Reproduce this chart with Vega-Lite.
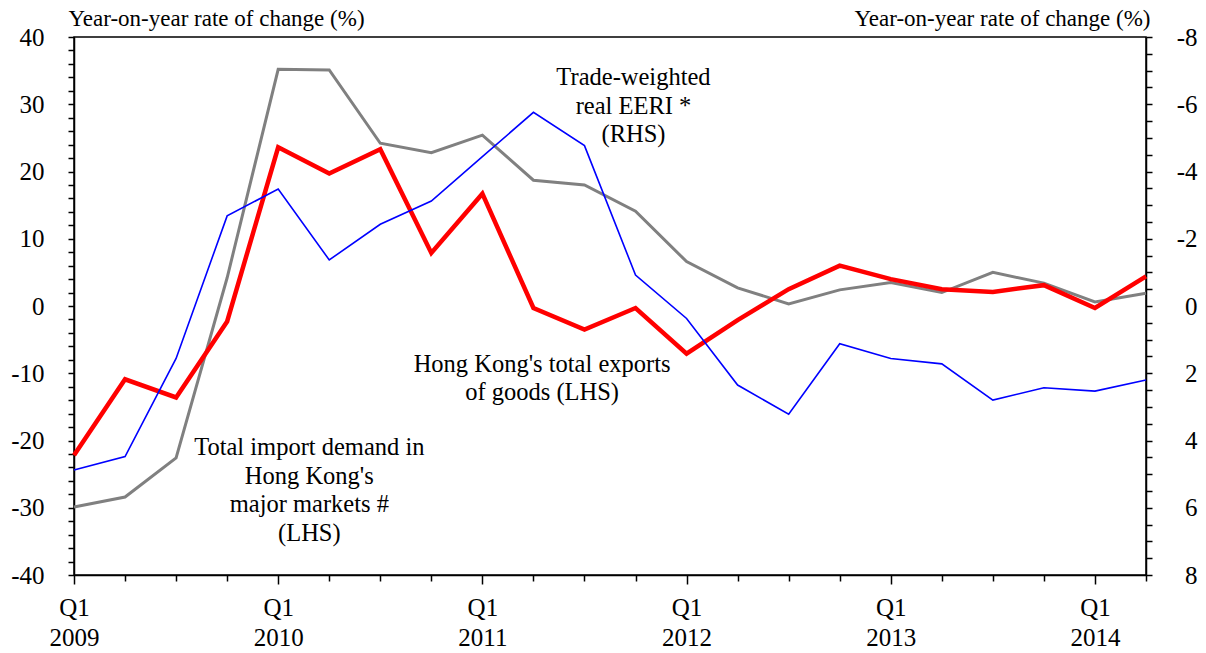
{
  "$schema": "https://vega.github.io/schema/vega-lite/v6.json",
  "width": 1072,
  "height": 538,
  "autosize": {"type": "none"},
  "padding": {"left": 74, "top": 37, "right": 60, "bottom": 78},
  "background": "white",
  "config": {
    "view": {"stroke": "black", "strokeWidth": 1.5},
    "axis": {
      "grid": false,
      "domainColor": "black",
      "domainWidth": 1.5,
      "tickColor": "black",
      "tickWidth": 1.5,
      "labelColor": "black",
      "titleColor": "black",
      "labelFont": "Liberation Serif",
      "titleFont": "Liberation Serif",
      "labelFontSize": 25,
      "titleFontSize": 23,
      "titleFontWeight": "normal",
      "labelOverlap": false,
      "labelFlush": false,
      "labelBound": false
    }
  },
  "datasets": {
    "series": [
      {"t": 0, "exports": -22.2, "imports": -29.9, "eeri": 4.88},
      {"t": 1, "exports": -10.9, "imports": -28.4, "eeri": 4.48},
      {"t": 2, "exports": -13.6, "imports": -22.6, "eeri": 1.56},
      {"t": 3, "exports": -2.3, "imports": 4.2, "eeri": -2.68},
      {"t": 4, "exports": 23.6, "imports": 35.2, "eeri": -3.48},
      {"t": 5, "exports": 19.7, "imports": 35.1, "eeri": -1.37},
      {"t": 6, "exports": 23.3, "imports": 24.2, "eeri": -2.43},
      {"t": 7, "exports": 7.9, "imports": 22.8, "eeri": -3.12},
      {"t": 8, "exports": 16.7, "imports": 25.4, "eeri": -4.44},
      {"t": 9, "exports": -0.3, "imports": 18.7, "eeri": -5.76},
      {"t": 10, "exports": -3.5, "imports": 18.0, "eeri": -4.77},
      {"t": 11, "exports": -0.3, "imports": 14.1, "eeri": -0.92},
      {"t": 12, "exports": -7.1, "imports": 6.6, "eeri": 0.37},
      {"t": 13, "exports": -2.1, "imports": 2.7, "eeri": 2.35},
      {"t": 14, "exports": 2.5, "imports": 0.3, "eeri": 3.22},
      {"t": 15, "exports": 6.0, "imports": 2.4, "eeri": 1.12},
      {"t": 16, "exports": 4.0, "imports": 3.5, "eeri": 1.56},
      {"t": 17, "exports": 2.5, "imports": 2.0, "eeri": 1.72},
      {"t": 18, "exports": 2.1, "imports": 5.0, "eeri": 2.80},
      {"t": 19, "exports": 3.1, "imports": 3.4, "eeri": 2.43},
      {"t": 20, "exports": -0.3, "imports": 0.6, "eeri": 2.53},
      {"t": 21, "exports": 4.4, "imports": 1.9, "eeri": 2.20}
    ],
    "notes": [
      {"t": 10.96, "v": 32.86, "label": "Trade-weighted\nreal EERI *\n(RHS)"},
      {"t": 9.17, "v": -9.74, "label": "Hong Kong's total exports\nof goods (LHS)"},
      {"t": 4.61, "v": -22.16, "label": "Total import demand in\nHong Kong's\nmajor markets #\n(LHS)"}
    ]
  },
  "layer": [
    {
      "layer": [
        {
          "data": {"name": "series"},
          "mark": {"type": "line", "color": "#808080", "strokeWidth": 3, "strokeJoin": "miter"},
          "encoding": {
            "x": {"field": "t", "type": "quantitative", "scale": {"domain": [0, 21], "nice": false, "zero": false},
              "axis": {"orient": "bottom", "values": [0,1,2,3,4,5,6,7,8,9,10,11,12,13,14,15,16,17,18,19,20,21], "labelExpr": "datum.value % 4 === 0 ? ['Q1', '' + (2009 + datum.value / 4)] : ''", "tickSize": {"condition": {"test": "datum.value % 4 === 0", "value": 9}, "value": 6}, "labelPadding": 11, "labelBaseline": "top", "labelLineHeight": 30.5, "labelAlign": "center", "labelFont": "Liberation Serif", "labelFontSize": 25, "title": null}
            },
            "y": {"field": "imports", "type": "quantitative", "scale": {"domain": [-40, 40], "nice": false},
              "axis": {"orient": "left", "values": [-40,-38,-36,-34,-32,-30,-28,-26,-24,-22,-20,-18,-16,-14,-12,-10,-8,-6,-4,-2,0,2,4,6,8,10,12,14,16,18,20,22,24,26,28,30,32,34,36,38,40], "labelExpr": "datum.value % 10 === 0 ? '' + datum.value : ''", "tickSize": 6, "labelPadding": 24, "labelBaseline": "middle", "labelFont": "Liberation Serif", "labelFontSize": 25, "title": "Year-on-year rate of change (%)", "titleFont": "Liberation Serif", "titleFontSize": 23, "titleAngle": 0, "titleAlign": "left", "titleBaseline": "alphabetic", "titleX": -6, "titleY": -12}
            }
          }
        },
        {
          "data": {"name": "series"},
          "mark": {"type": "line", "color": "#FF0000", "strokeWidth": 4.5, "strokeJoin": "miter"},
          "encoding": {
            "x": {"field": "t", "type": "quantitative", "scale": {"domain": [0, 21], "nice": false, "zero": false},
              "axis": {"orient": "bottom", "values": [0,1,2,3,4,5,6,7,8,9,10,11,12,13,14,15,16,17,18,19,20,21], "labelExpr": "datum.value % 4 === 0 ? ['Q1', '' + (2009 + datum.value / 4)] : ''", "tickSize": {"condition": {"test": "datum.value % 4 === 0", "value": 9}, "value": 6}, "labelPadding": 11, "labelBaseline": "top", "labelLineHeight": 30.5, "labelAlign": "center", "labelFont": "Liberation Serif", "labelFontSize": 25, "title": null}
            },
            "y": {"field": "exports", "type": "quantitative", "scale": {"domain": [-40, 40], "nice": false},
              "axis": {"orient": "left", "values": [-40,-38,-36,-34,-32,-30,-28,-26,-24,-22,-20,-18,-16,-14,-12,-10,-8,-6,-4,-2,0,2,4,6,8,10,12,14,16,18,20,22,24,26,28,30,32,34,36,38,40], "labelExpr": "datum.value % 10 === 0 ? '' + datum.value : ''", "tickSize": 6, "labelPadding": 24, "labelBaseline": "middle", "labelFont": "Liberation Serif", "labelFontSize": 25, "title": "Year-on-year rate of change (%)", "titleFont": "Liberation Serif", "titleFontSize": 23, "titleAngle": 0, "titleAlign": "left", "titleBaseline": "alphabetic", "titleX": -6, "titleY": -12}
            }
          }
        },
        {
          "mark": {"type": "rule", "color": "black", "strokeWidth": 1.5},
          "encoding": {
            "y": {"datum": 0, "type": "quantitative", "scale": {"domain": [-40, 40], "nice": false},
              "axis": {"orient": "left", "values": [-40,-38,-36,-34,-32,-30,-28,-26,-24,-22,-20,-18,-16,-14,-12,-10,-8,-6,-4,-2,0,2,4,6,8,10,12,14,16,18,20,22,24,26,28,30,32,34,36,38,40], "labelExpr": "datum.value % 10 === 0 ? '' + datum.value : ''", "tickSize": 6, "labelPadding": 24, "labelBaseline": "middle", "labelFont": "Liberation Serif", "labelFontSize": 25, "title": "Year-on-year rate of change (%)", "titleFont": "Liberation Serif", "titleFontSize": 23, "titleAngle": 0, "titleAlign": "left", "titleBaseline": "alphabetic", "titleX": -6, "titleY": -12}
            }
          }
        },
        {
          "data": {"name": "notes"},
          "mark": {"type": "text", "font": "Liberation Serif", "fontSize": 24.5, "color": "black", "align": "center", "baseline": "alphabetic", "lineBreak": "\n", "lineHeight": 28.5},
          "encoding": {
            "x": {"field": "t", "type": "quantitative", "scale": {"domain": [0, 21], "nice": false, "zero": false},
              "axis": {"orient": "bottom", "values": [0,1,2,3,4,5,6,7,8,9,10,11,12,13,14,15,16,17,18,19,20,21], "labelExpr": "datum.value % 4 === 0 ? ['Q1', '' + (2009 + datum.value / 4)] : ''", "tickSize": {"condition": {"test": "datum.value % 4 === 0", "value": 9}, "value": 6}, "labelPadding": 11, "labelBaseline": "top", "labelLineHeight": 30.5, "labelAlign": "center", "labelFont": "Liberation Serif", "labelFontSize": 25, "title": null}
            },
            "y": {"field": "v", "type": "quantitative", "scale": {"domain": [-40, 40], "nice": false},
              "axis": {"orient": "left", "values": [-40,-38,-36,-34,-32,-30,-28,-26,-24,-22,-20,-18,-16,-14,-12,-10,-8,-6,-4,-2,0,2,4,6,8,10,12,14,16,18,20,22,24,26,28,30,32,34,36,38,40], "labelExpr": "datum.value % 10 === 0 ? '' + datum.value : ''", "tickSize": 6, "labelPadding": 24, "labelBaseline": "middle", "labelFont": "Liberation Serif", "labelFontSize": 25, "title": "Year-on-year rate of change (%)", "titleFont": "Liberation Serif", "titleFontSize": 23, "titleAngle": 0, "titleAlign": "left", "titleBaseline": "alphabetic", "titleX": -6, "titleY": -12}
            },
            "text": {"field": "label"}
          }
        }
      ]
    },
    {
      "data": {"name": "series"},
      "mark": {"type": "line", "color": "#0000FF", "strokeWidth": 1.6, "strokeJoin": "miter"},
      "encoding": {
        "x": {"field": "t", "type": "quantitative", "scale": {"domain": [0, 21], "nice": false, "zero": false},
          "axis": {"orient": "bottom", "values": [0,1,2,3,4,5,6,7,8,9,10,11,12,13,14,15,16,17,18,19,20,21], "labelExpr": "datum.value % 4 === 0 ? ['Q1', '' + (2009 + datum.value / 4)] : ''", "tickSize": {"condition": {"test": "datum.value % 4 === 0", "value": 9}, "value": 6}, "labelPadding": 11, "labelBaseline": "top", "labelLineHeight": 30.5, "labelAlign": "center", "labelFont": "Liberation Serif", "labelFontSize": 25, "title": null}
        },
        "y": {"field": "eeri", "type": "quantitative", "scale": {"domain": [-8, 8], "nice": false, "reverse": true},
          "axis": {"orient": "right", "values": [-8,-7.5,-7,-6.5,-6,-5.5,-5,-4.5,-4,-3.5,-3,-2.5,-2,-1.5,-1,-0.5,0,0.5,1,1.5,2,2.5,3,3.5,4,4.5,5,5.5,6,6.5,7,7.5,8], "labelExpr": "datum.value % 2 === 0 ? '' + datum.value : ''", "tickSize": 6, "labelPadding": 45, "labelAlign": "right", "labelBaseline": "middle", "labelFont": "Liberation Serif", "labelFontSize": 25, "title": "Year-on-year rate of change (%)", "titleFont": "Liberation Serif", "titleFontSize": 23, "titleAngle": 0, "titleAlign": "right", "titleBaseline": "alphabetic", "titleX": 4, "titleY": -12}
        }
      }
    }
  ],
  "resolve": {"scale": {"y": "independent"}}
}
